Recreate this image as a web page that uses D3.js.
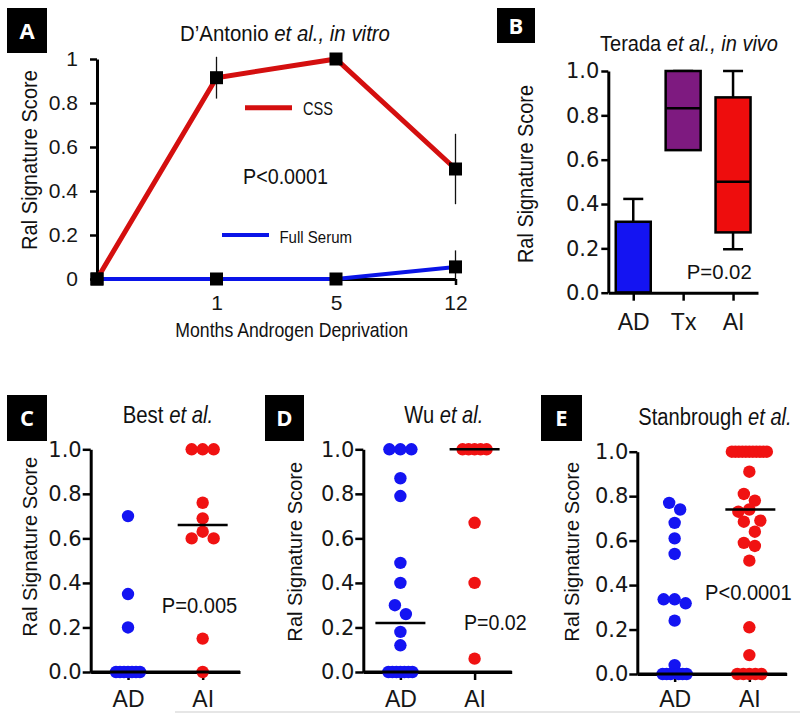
<!DOCTYPE html>
<html><head><meta charset="utf-8">
<script src="https://cdn.jsdelivr.net/npm/d3@7"></script>
<style>body{margin:0;background:#fff}svg{display:block}</style>
</head><body><svg id="c" width="800" height="713"></svg>
<script>
// ---------- DATA ----------
// Panel A (D'Antonio et al., in vitro)
const monthsA = ["0", "1", "5", "12"];
const monthLabelsA = ["", "1", "5", "12"];
const cssA = [0, 0.915, 1.0, 0.5];
const cssErrA = [0, 0.095, 0, 0.16];
const fullSerumA = [0, 0, 0, 0.055];
const fullSerumErrA = [0, 0, 0, 0.075];
const yTicksA = [0, 0.2, 0.4, 0.6, 0.8, 1];
const yTickLabelsA = ["0", "0.2", "0.4", "0.6", "0.8", "1"];

// Panel B (Terada et al., in vivo) box plots
const groupsB = ["AD", "Tx", "AI"];
const minB = [0, 0.643, 0.196];
const q1B = [0, 0.643, 0.272];
const medB = [0, 0.832, 0.5];
const q3B = [0.32, 1.0, 0.881];
const maxB = [0.423, 1.0, 1.0];

const yTicks = [0, 0.2, 0.4, 0.6, 0.8, 1.0];
const yTickLabels = ["0.0", "0.2", "0.4", "0.6", "0.8", "1.0"];
const groupsCDE = ["AD", "AI"];

// Panel C (Best et al.)
const bestAD = [0.70, 0.35, 0.20, 0, 0, 0, 0, 0, 0, 0];
const bestAI = [1, 1, 1, 0.76, 0.69, 0.63, 0.60, 0.60, 0.15, 0];
// Panel D (Wu et al.)
const wuAD = [1, 1, 1, 0.87, 0.79, 0.49, 0.40, 0.30, 0.26, 0.18, 0.12, 0, 0, 0, 0, 0, 0, 0];
const wuAI = [1, 1, 1, 1, 1, 0.67, 0.40, 0.06];
// Panel E (Stanbrough et al.)
const stanAD = [0.77, 0.74, 0.68, 0.61, 0.54, 0.336, 0.318, 0.336, 0.24, 0.04, 0, 0, 0, 0, 0, 0];
const stanAI = [1, 1, 1, 1, 1, 1, 1, 1, 1, 1, 1, 0.91, 0.81, 0.78, 0.74, 0.73, 0.69, 0.685, 0.64, 0.59, 0.576, 0.51, 0.21, 0.085, 0, 0, 0, 0, 0];

// ---------- STYLE ----------
const FONT = "'Liberation Sans', Arial, Helvetica, sans-serif";
const TICKFONT = "'DejaVu Sans', Verdana, sans-serif";
const RED = "#f01212", BLUE = "#1414f2", PURPLE = "#7e1a80";

const svg = d3.select("#c");

function label(txt, cx, by, size, width, rotate) {
  const t = svg.append("text").attr("text-anchor", "middle")
    .attr("font-family", FONT).attr("font-size", size).attr("fill", "#111");
  if (Array.isArray(txt)) txt.forEach(([s, it]) => t.append("tspan").text(s).attr("font-style", it ? "italic" : null));
  else t.text(txt);
  const w = t.node().getBBox().width;
  const k = width ? width / w : 1;
  t.attr("transform", `translate(${cx},${by})${rotate ? ` rotate(${rotate})` : ""} scale(${k},1)`);
  return t;
}
function panelBox(letter, x, y, w, h) {
  svg.append("rect").attr("x", x).attr("y", y).attr("width", w).attr("height", h).attr("fill", "#000");
  svg.append("text").attr("x", x + w / 2).attr("y", y + h / 2 + 8).attr("text-anchor", "middle")
    .attr("font-family", "'Open Sans', " + FONT).attr("font-weight", "bold").attr("font-size", 22)
    .attr("fill", "#fff").text(letter);
}
function styleAxis(g, sw, font, fsize) {
  g.select(".domain").attr("stroke", "#000").attr("stroke-width", sw);
  g.selectAll(".tick line").attr("stroke", "#000").attr("stroke-width", sw - 0.5);
  g.selectAll(".tick text").attr("font-family", font).attr("font-size", fsize).attr("fill", "#161616");
}

// ---------- PANEL A ----------
panelBox("A", 7, 8, 40, 45);
{
  const x = d3.scalePoint().domain(monthsA).range([97, 455.5]).padding(0);
  const y = d3.scaleLinear().domain([0, 1]).range([279, 59]);
  const gy = svg.append("g").attr("transform", "translate(97,0)")
    .call(d3.axisLeft(y).tickValues(yTicksA).tickFormat((d, i) => yTickLabelsA[i]).tickSize(7).tickSizeOuter(0).tickPadding(12));
  styleAxis(gy, 3, FONT, 21);
  const gx = svg.append("g").attr("transform", "translate(0,279)")
    .call(d3.axisBottom(x).tickFormat((d, i) => monthLabelsA[i]).tickSize(6).tickSizeOuter(0));
  styleAxis(gx, 3, FONT, 21);
  gx.selectAll(".tick text").attr("dy", null).attr("y", 31);

  const line = d3.line().x((d, i) => x(monthsA[i])).y(d => y(d));
  svg.append("path").datum(cssA).attr("d", line).attr("fill", "none").attr("stroke", "#d40f0f").attr("stroke-width", 5);
  svg.append("path").datum(fullSerumA).attr("d", line).attr("fill", "none").attr("stroke", "#0a14e8").attr("stroke-width", 4);

  [[cssA, cssErrA], [fullSerumA, fullSerumErrA]].forEach(([vals, errs]) => {
    svg.append("g").selectAll("line").data(vals).join("line")
      .attr("x1", (d, i) => x(monthsA[i])).attr("x2", (d, i) => x(monthsA[i]))
      .attr("y1", (d, i) => y(d + errs[i])).attr("y2", (d, i) => y(Math.max(0, d - errs[i])))
      .attr("stroke", "#111").attr("stroke-width", 1.3);
    svg.append("g").selectAll("rect").data(vals).join("rect")
      .attr("x", (d, i) => x(monthsA[i]) - 6.5).attr("y", d => y(d) - 6.5)
      .attr("width", 13).attr("height", 13).attr("fill", "#000");
  });

  // legend
  svg.append("line").attr("x1", 245).attr("x2", 292).attr("y1", 107.7).attr("y2", 107.7).attr("stroke", "#d40f0f").attr("stroke-width", 5);
  label("CSS", 318, 115, 18, 30);
  svg.append("line").attr("x1", 222).attr("x2", 269).attr("y1", 235).attr("y2", 235).attr("stroke", "#0a14e8").attr("stroke-width", 4);
  label("Full Serum", 315.7, 242.7, 17, 72.7);

  label([["D\u2019Antonio ", false], ["et al., in vitro", true]], 285, 41, 22, 210);
  label("Ral Signature Score", 37, 160, 22, 180, -90);
  label("Months Androgen Deprivation", 291.7, 337, 20, 233);
  label("P<0.0001", 285.5, 184, 22, 85);
}

// ---------- PANEL B ----------
panelBox("B", 497, 8, 38, 35);
{
  const x = d3.scalePoint().domain(groupsB).range([608.3, 758]).padding(0.5);
  const y = d3.scaleLinear().domain([0, 1]).range([292.7, 71]);
  const fills = [BLUE, PURPLE, "#ee0d0d"];
  const bw = 35, cw = 20;
  const g = svg.append("g");
  groupsB.forEach((grp, i) => {
    const cx = x(grp);
    g.append("line").attr("x1", cx).attr("x2", cx).attr("y1", y(q3B[i])).attr("y2", y(maxB[i])).attr("stroke", "#000").attr("stroke-width", 2.5);
    g.append("line").attr("x1", cx - cw / 2).attr("x2", cx + cw / 2).attr("y1", y(maxB[i])).attr("y2", y(maxB[i])).attr("stroke", "#000").attr("stroke-width", 2.5);
    if (minB[i] < q1B[i]) {
      g.append("line").attr("x1", cx).attr("x2", cx).attr("y1", y(q1B[i])).attr("y2", y(minB[i])).attr("stroke", "#000").attr("stroke-width", 2.5);
      g.append("line").attr("x1", cx - cw / 2).attr("x2", cx + cw / 2).attr("y1", y(minB[i])).attr("y2", y(minB[i])).attr("stroke", "#000").attr("stroke-width", 2.5);
    }
    g.append("rect").attr("x", cx - bw / 2).attr("y", y(q3B[i])).attr("width", bw).attr("height", y(q1B[i]) - y(q3B[i]))
      .attr("fill", fills[i]).attr("stroke", "#000").attr("stroke-width", 2.5);
    g.append("line").attr("x1", cx - bw / 2).attr("x2", cx + bw / 2).attr("y1", y(medB[i])).attr("y2", y(medB[i])).attr("stroke", "#000").attr("stroke-width", 2.5);
  });
  const gy = svg.append("g").attr("transform", "translate(608.3,0)")
    .call(d3.axisLeft(y).tickValues(yTicks).tickFormat((d, i) => yTickLabels[i]).tickSize(7).tickSizeOuter(0).tickPadding(2));
  styleAxis(gy, 3, TICKFONT, 21);
  const gx = svg.append("g").attr("transform", "translate(0,292.7)")
    .call(d3.axisBottom(x).tickSize(8).tickSizeOuter(0));
  styleAxis(gx, 3, FONT, 23);
  gx.selectAll(".tick text").attr("dy", null).attr("y", 37.5);

  label([["Terada ", false], ["et al., in vivo", true]], 689, 50.5, 22, 178);
  label("Ral Signature Score", 533, 174, 22, 178, -90);
  label("P=0.02", 719.2, 279.3, 21, 65);
}

// ---------- DOT PANELS ----------
// column-scatter layout: points whose pixel heights are close form a row, spread symmetrically
function swarm(values, cx, y) {
  const sorted = values.slice().sort((a, b) => b - a);
  const rows = [];
  for (const v of sorted) {
    const py = y(v);
    const last = rows[rows.length - 1];
    if (last && py - last.y0 < 12) last.pts.push({ v, y: py });
    else rows.push({ y0: py, pts: [{ v, y: py }] });
  }
  const out = [];
  rows.forEach(r => {
    const m = r.pts.length;
    const sp = m >= 5 ? Math.max(3.5, 24 / (m - 1)) : 11;
    // centre-out slot order
    const slots = d3.range(m).map(j => j - (m - 1) / 2).sort((a, b) => Math.abs(a) - Math.abs(b) || a - b);
    r.pts.forEach((p, j) => out.push({ v: p.v, y: p.y, x: cx + slots[j] * sp }));
  });
  return out;
}

function dotPanel(cfg) {
  panelBox(cfg.letter, ...cfg.box);
  const x = d3.scalePoint().domain(groupsCDE).range([cfg.x0, cfg.x1]).padding(0.5);
  const y = d3.scaleLinear().domain([0, 1]).range([cfg.yb, cfg.yt]);
  const gy = svg.append("g").attr("transform", `translate(${cfg.x0},0)`)
    .call(d3.axisLeft(y).tickValues(yTicks).tickFormat((d, i) => yTickLabels[i]).tickSize(8).tickSizeOuter(0).tickPadding(1));
  styleAxis(gy, 3, TICKFONT, 21);
  const gx = svg.append("g").attr("transform", `translate(0,${cfg.yb})`)
    .call(d3.axisBottom(x).tickSize(8).tickSizeOuter(0));
  styleAxis(gx, 3, FONT, 23);
  gx.selectAll(".tick text").attr("dy", null).attr("y", 707 - cfg.yb);

  const series = [[cfg.ad, BLUE], [cfg.ai, RED]];
  series.forEach(([vals, col], gi) => {
    const pts = swarm(vals, x(groupsCDE[gi]), y);
    svg.append("g").selectAll("circle").data(pts).join("circle")
      .attr("cx", d => d.x).attr("cy", d => d.y).attr("r", 6.2).attr("fill", col);
  });
  svg.append("line").attr("x1", cfg.x0).attr("x2", cfg.x1).attr("y1", cfg.yb).attr("y2", cfg.yb).attr("stroke", "#000").attr("stroke-width", 3);
  series.forEach(([vals], gi) => {
    if (!cfg.median[gi]) return;
    const m = d3.median(vals), cx = x(groupsCDE[gi]) + (cfg.medShift || 0);
    svg.append("line").attr("x1", cx - 25).attr("x2", cx + 25).attr("y1", y(m)).attr("y2", y(m)).attr("stroke", "#000").attr("stroke-width", 2.5);
  });
  label(cfg.title, cfg.tcx, cfg.tby, 23, cfg.tw);
  label("Ral Signature Score", cfg.ytx, cfg.ytc, 21, 180, -90);
  label(cfg.p, cfg.pcx, cfg.pby, 22, cfg.pw);
}

dotPanel({ letter: "C", box: [7, 395, 40, 46], x0: 90.7, x1: 240, yb: 672, yt: 449.3, ad: bestAD, ai: bestAI,
  median: [false, true], title: [["Best ", false], ["et al.", true]], tcx: 168, tby: 423, tw: 90.6,
  ytx: 37, ytc: 546.7, p: "P=0.005", pcx: 199.5, pby: 613.3, pw: 75.6 });
dotPanel({ letter: "D", box: [265, 395, 39, 46], x0: 363.3, x1: 511.7, yb: 672, yt: 449.3, ad: wuAD, ai: wuAI,
  median: [true, true], title: [["Wu ", false], ["et al.", true]], tcx: 443.8, tby: 423, tw: 79,
  ytx: 302, ytc: 551.7, p: "P=0.02", pcx: 495.3, pby: 630, pw: 62.7 });
dotPanel({ letter: "E", box: [541, 395, 41, 46], x0: 637.3, x1: 786.7, yb: 674, yt: 451.7, ad: stanAD, ai: stanAI,
  median: [false, true], medShift: 1, title: [["Stanbrough ", false], ["et al.", true]], tcx: 715, tby: 425, tw: 153.4,
  ytx: 579, ytc: 551.7, p: "P<0.0001", pcx: 748.3, pby: 600, pw: 86.7 });

svg.append("line").attr("x1", 175).attr("x2", 800).attr("y1", 712).attr("y2", 712).attr("stroke", "#e6e6e6").attr("stroke-width", 2);
</script></body></html>
